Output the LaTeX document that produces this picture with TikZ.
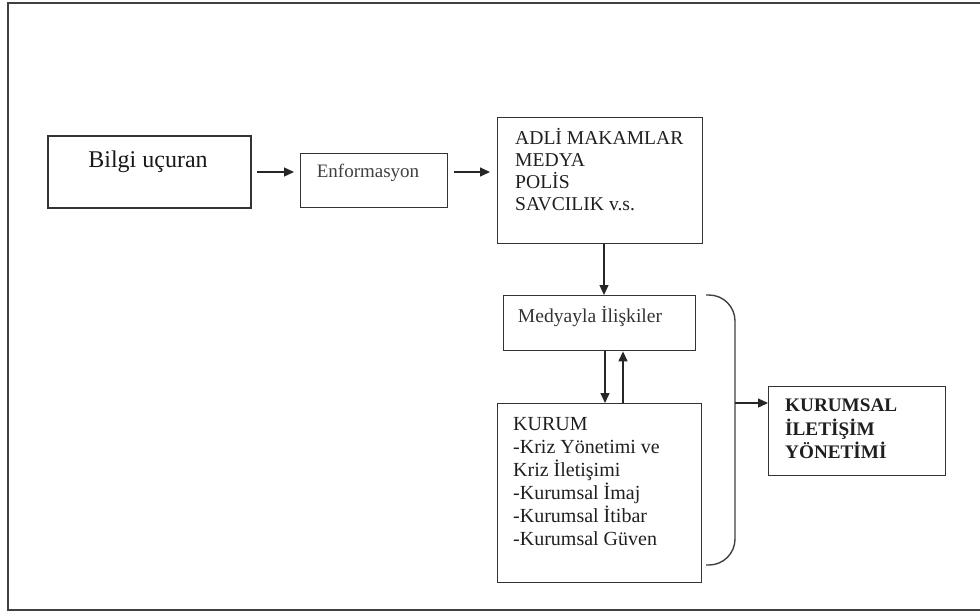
\documentclass[tikz,border=0pt]{standalone}
\usepackage{fontspec}
\setmainfont{Liberation Serif}
\usetikzlibrary{arrows.meta}
\begin{document}
\begin{tikzpicture}[x=1pt,y=-1pt,
  box/.style={draw=black!80,line width=1.4pt,inner sep=0pt,anchor=north west},
  txt/.style={inner sep=0pt,text=black!88,align=left,anchor=north west},
  arr/.style={draw=black!85,line width=1.3pt,-{Triangle[length=10pt,width=9pt]}},
  frame/.style={draw=black!75,line width=2pt}]
\useasboundingbox (0,0) rectangle (980,614);
\draw[frame] (985,3) -- (8,3) -- (8,610) -- (985,610);
% boxes
\node[box,line width=2.2pt,minimum width=203pt,minimum height=72pt] (bilgi) at (47,135) {};
\node[box,minimum width=147pt,minimum height=54pt] (enf) at (300,153) {};
\node[box,minimum width=205pt,minimum height=126pt] (adli) at (497,117) {};
\node[box,minimum width=192pt,minimum height=55pt] (med) at (503,295) {};
\node[box,minimum width=204pt,minimum height=179pt] (kurum) at (497,403) {};
\node[box,minimum width=177pt,minimum height=89pt] (kim) at (768,386) {};
% texts
\node[inner sep=0pt,text=black!90,font={\fontsize{24}{28}\selectfont}] (tbilgi) at (148,162) {Bilgi uçuran};
\node[inner sep=0pt,text=black!75,font={\fontsize{19}{22}\selectfont}] (tenf) at (368,173) {Enformasyon};
\node[txt,font={\fontsize{19.6}{22}\selectfont}] (tadli) at (515,128) {ADLİ MAKAMLAR\\MEDYA\\POLİS\\SAVCILIK v.s.};
\node[inner sep=0pt,text=black!80,font={\fontsize{19.6}{22}\selectfont}] (tmed) at (590,317) {Medyayla İlişkiler};
\node[txt,font={\fontsize{20}{23}\selectfont}] (tkurum) at (513,417) {KURUM\\-Kriz Yönetimi ve\\Kriz İletişimi\\-Kurumsal İmaj\\-Kurumsal İtibar\\-Kurumsal Güven};
\node[txt,font={\fontsize{19.2}{23.5}\selectfont\bfseries}] (tkim) at (785,399) {KURUMSAL\\İLETİŞİM\\YÖNETİMİ};
% connectors
\coordinate (r1) at (0,172);
\coordinate (c3) at (604,0);
\coordinate (c4) at (605,0);
\coordinate (c5) at (623,0);
\draw[arr,shorten <=5pt,shorten >=6pt] (bilgi.east |- r1) -- (enf.west |- r1);
\draw[arr,shorten <=6pt,shorten >=7pt] (enf.east |- r1) -- (adli.west |- r1);
\draw[arr] (adli.south -| c3) -- (med.north -| c3);
\draw[arr] (med.south -| c4) -- (kurum.north -| c4);
\draw[arr] (kurum.north -| c5) -- (med.south -| c5);
% brace
\coordinate (bt) at (706,295);
\coordinate (bb) at (706,565);
\coordinate (bm) at (735,403);
\draw[draw=black!75,line width=1.4pt,rounded corners=26pt] (bt) -- (bt -| bm) -- (bb -| bm) -- (bb);
\draw[arr] (bm) -- (bm -| kim.west);
\end{tikzpicture}
\end{document}
